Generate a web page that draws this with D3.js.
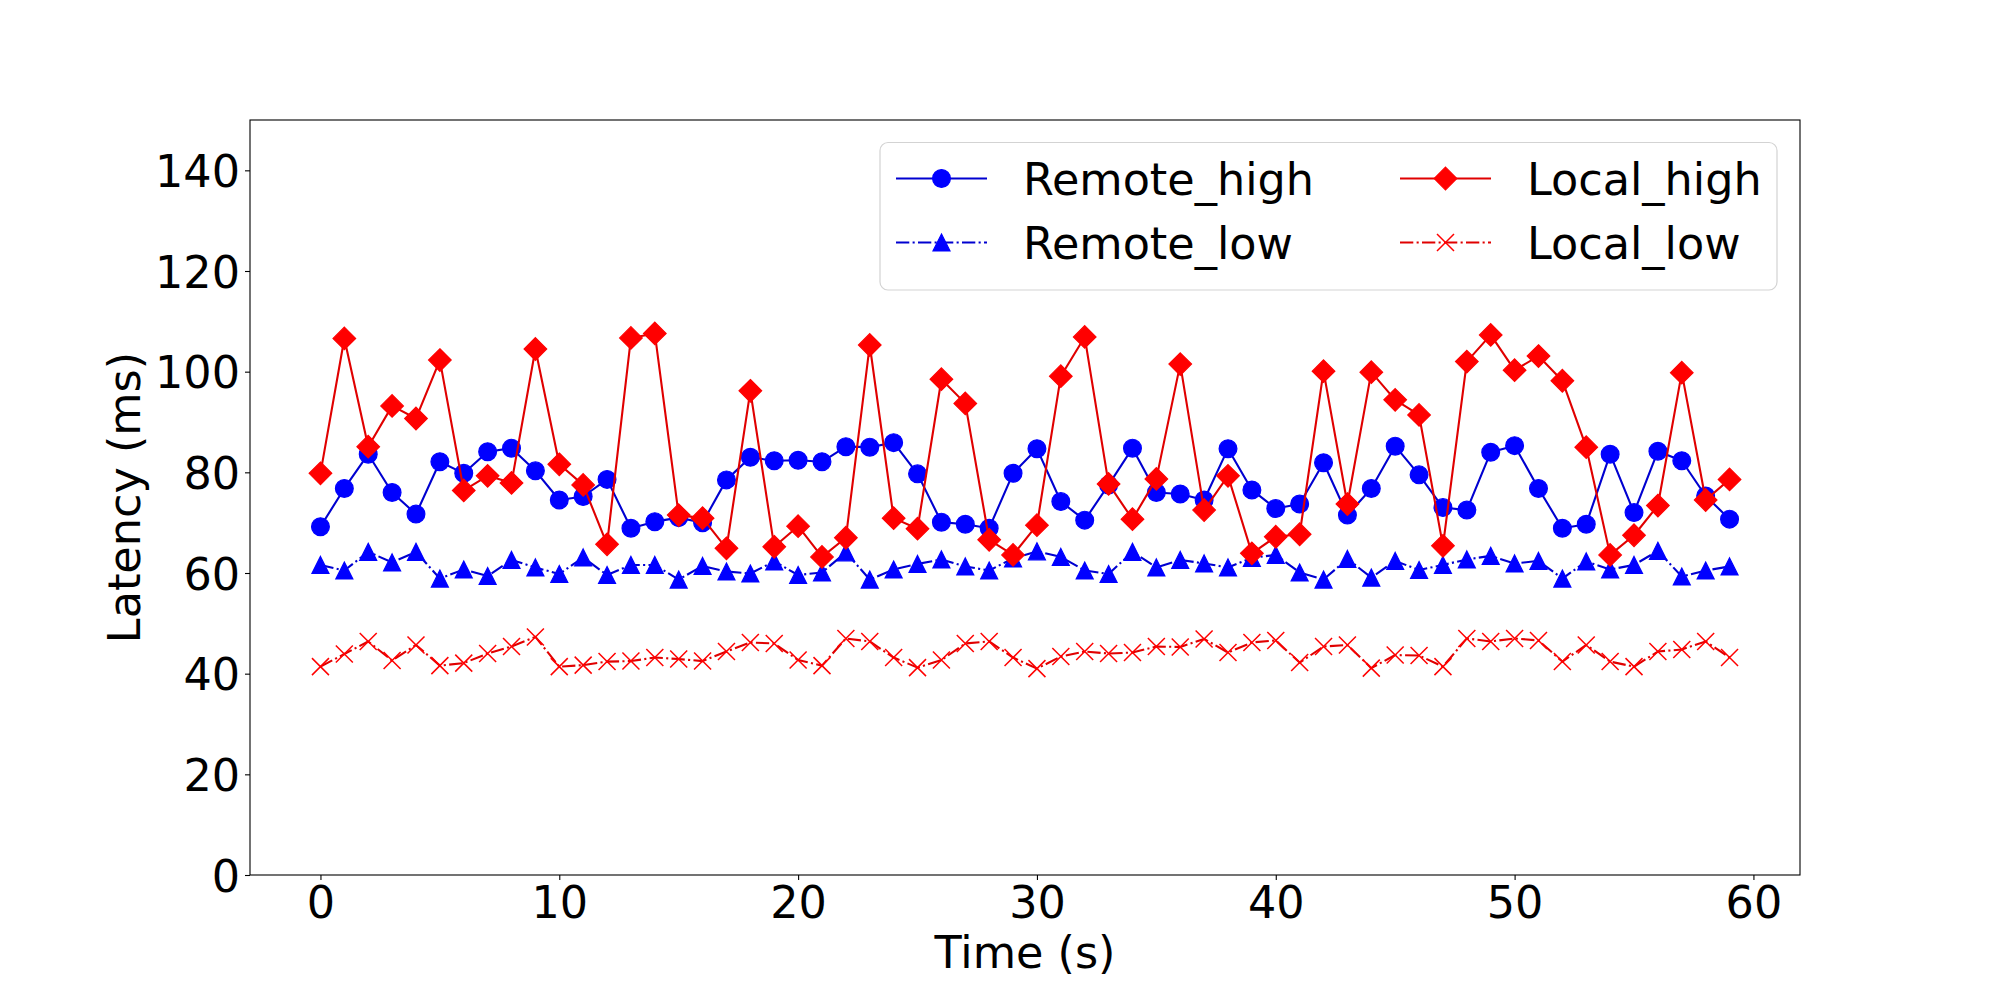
<!DOCTYPE html>
<html>
<head>
<meta charset="utf-8">
<script src="https://cdn.jsdelivr.net/npm/d3@7"></script>
<style>
  html, body { margin: 0; padding: 0; background: #fff; }
  svg { display: block; font-family: "DejaVu Sans", sans-serif; }
</style>
</head>
<body>
<svg id="chart" width="2000" height="1000"></svg>
<script>
// ---- data ----
const times = d3.range(0, 60);
const remoteHigh = [69.2, 76.8, 83.6, 76.0, 71.7, 82.1, 79.8, 84.1, 84.8, 80.3,
  74.5, 75.2, 78.6, 68.9, 70.2, 71.0, 70.0, 78.5, 83.0, 82.3,
  82.4, 82.1, 85.1, 85.0, 85.9, 79.7, 70.1, 69.7, 68.9, 79.8,
  84.7, 74.2, 70.5, 77.5, 84.8, 76.0, 75.7, 74.5, 84.7, 76.5,
  72.8, 73.7, 81.9, 71.5, 76.8, 85.2, 79.5, 73.0, 72.5, 84.0,
  85.3, 76.8, 68.9, 69.7, 83.6, 72.0, 84.2, 82.3, 75.3, 70.7];
const remoteLow = [61.6, 60.5, 64.2, 62.1, 64.2, 58.9, 60.7, 59.4, 62.6, 61.1,
  59.8, 63.1, 59.6, 61.6, 61.6, 58.7, 61.4, 60.3, 59.9, 62.3,
  59.6, 60.1, 64.1, 58.7, 60.7, 61.8, 62.7, 61.3, 60.5, 62.9,
  64.3, 63.2, 60.5, 59.8, 64.2, 61.1, 62.6, 61.9, 61.1, 63.0,
  63.6, 60.1, 58.7, 62.8, 59.1, 62.4, 60.6, 61.6, 62.7, 63.4,
  61.9, 62.4, 58.9, 62.3, 60.7, 61.6, 64.4, 59.3, 60.5, 61.3];
const localHigh = [79.8, 106.6, 85.1, 93.2, 90.7, 102.3, 76.4, 79.3, 77.9, 104.5,
  81.6, 77.5, 65.7, 106.7, 107.6, 71.5, 70.9, 64.9, 96.2, 65.2,
  69.3, 63.2, 67.0, 105.3, 70.9, 68.8, 98.5, 93.7, 66.6, 63.6,
  69.5, 99.1, 106.9, 77.7, 70.7, 78.7, 101.5, 72.5, 79.3, 63.9,
  67.2, 67.7, 100.1, 73.7, 99.9, 94.4, 91.4, 65.4, 102.0, 107.3,
  100.3, 103.1, 98.2, 85.0, 63.6, 67.5, 73.4, 99.8, 74.5, 78.6];
const localLow = [41.4, 43.9, 46.4, 42.6, 45.7, 41.6, 42.1, 44.0, 45.4, 47.3,
  41.4, 41.7, 42.4, 42.5, 43.2, 42.9, 42.5, 44.4, 46.2, 46.0,
  42.7, 41.6, 47.0, 46.4, 43.2, 41.2, 42.7, 46.0, 46.4, 43.2,
  41.0, 43.4, 44.4, 44.0, 44.2, 45.4, 45.3, 46.9, 44.2, 46.2,
  46.6, 42.2, 45.4, 45.7, 41.1, 43.7, 43.6, 41.4, 47.0, 46.4,
  47.0, 46.6, 42.4, 45.7, 42.4, 41.4, 44.4, 44.8, 46.4, 43.2];
const seriesNames = ["Remote_high", "Remote_low", "Local_high", "Local_low"];
const xTicks = [0, 10, 20, 30, 40, 50, 60];
const yTicks = [0, 20, 40, 60, 80, 100, 120, 140];
const xLabel = "Time (s)";
const yLabel = "Latency (ms)";

// ---- styles ----
const styles = {
  "Remote_high": { values: remoteHigh, line: "#0000d0", fill: "#0000ff", dash: null, marker: "circle" },
  "Remote_low":  { values: remoteLow,  line: "#0000d0", fill: "#0000ff", dash: "13.3,3.3,2.1,3.3", marker: "triangle" },
  "Local_high":  { values: localHigh,  line: "#e00000", fill: "#ff0000", dash: null, marker: "diamond" },
  "Local_low":   { values: localLow,   line: "#e00000", fill: "#ff0000", dash: "13.3,3.3,2.1,3.3", marker: "x" }
};

const W = 2000, H = 1000;
const plot = { left: 250, right: 1800, top: 120, bottom: 875 };
const fs = 44.5;

const svg = d3.select("#chart");
const x = d3.scaleLinear().domain([-2.95, 61.95]).range([plot.left, plot.right]);
const y = d3.scaleLinear().domain([0, 150]).range([plot.bottom, plot.top]);

svg.append("rect").attr("width", W).attr("height", H).attr("fill", "#fff");

function drawMarker(g, type, cx, cy, st) {
  if (type === "circle") {
    g.append("circle").attr("cx", cx).attr("cy", cy).attr("r", 8.9)
      .attr("fill", st.fill).attr("stroke", st.fill).attr("stroke-width", 1.2);
  } else if (type === "diamond") {
    const h = 11.3;
    g.append("path").attr("d", `M${cx},${cy - h}L${cx + h},${cy}L${cx},${cy + h}L${cx - h},${cy}Z`)
      .attr("fill", st.fill).attr("stroke", st.fill).attr("stroke-width", 1.2);
  } else if (type === "triangle") {
    const h = 8.5;
    g.append("path").attr("d", `M${cx},${cy - h}L${cx + h},${cy + h}L${cx - h},${cy + h}Z`)
      .attr("fill", st.fill).attr("stroke", st.fill).attr("stroke-width", 1.2);
  } else if (type === "x") {
    const h = 8.5;
    g.append("path").attr("d", `M${cx - h},${cy - h}L${cx + h},${cy + h}M${cx - h},${cy + h}L${cx + h},${cy - h}`)
      .attr("fill", "none").attr("stroke", st.fill).attr("stroke-width", 1.5);
  }
}

// ---- axes ----
const xAxis = d3.axisBottom(x).tickValues(xTicks).tickSize(5).tickPadding(8).tickFormat(d3.format("d"));
const yAxis = d3.axisLeft(y).tickValues(yTicks).tickSize(5).tickPadding(8).tickFormat(d3.format("d"));

const gx = svg.append("g").attr("transform", `translate(0,${plot.bottom})`).call(xAxis);
const gy = svg.append("g").attr("transform", `translate(${plot.left},0)`).call(yAxis);
[gx, gy].forEach(g => {
  g.select(".domain").remove();
  g.selectAll(".tick line").attr("stroke", "#000").attr("stroke-width", 1.1);
  g.selectAll(".tick text").attr("fill", "#000").attr("font-size", fs)
    .attr("font-family", "DejaVu Sans");
});
gx.selectAll(".tick text").attr("dy", null).attr("y", 43.3);
gy.selectAll(".tick text").attr("dy", null).attr("x", -10).attr("y", 16.2);

// ---- series ----
const plotG = svg.append("g");
const line = d3.line().x((d, i) => x(times[i])).y(d => y(d));
seriesNames.forEach(name => {
  const st = styles[name];
  const g = plotG.append("g");
  g.append("path").datum(st.values).attr("d", line)
    .attr("fill", "none").attr("stroke", st.line).attr("stroke-width", 2.1)
    .attr("stroke-dasharray", st.dash).attr("stroke-linejoin", "round");
  st.values.forEach((v, i) => drawMarker(g, st.marker, x(times[i]), y(v), st));
});

// ---- frame ----
svg.append("rect").attr("x", plot.left).attr("y", plot.top)
  .attr("width", plot.right - plot.left).attr("height", plot.bottom - plot.top)
  .attr("fill", "none").attr("stroke", "#000").attr("stroke-width", 1.1);

// ---- axis labels ----
svg.append("text").attr("x", (plot.left + plot.right) / 2).attr("y", 968)
  .attr("text-anchor", "middle").attr("font-size", fs).attr("fill", "#000").text(xLabel);
svg.append("text").attr("transform", `translate(140,${(plot.top + plot.bottom) / 2}) rotate(-90)`)
  .attr("text-anchor", "middle").attr("font-size", fs).attr("fill", "#000").text(yLabel);

// ---- legend ----
const lg = svg.append("g");
lg.append("rect").attr("x", 880).attr("y", 142.5).attr("width", 897).attr("height", 147.5)
  .attr("rx", 8).attr("fill", "#fff").attr("fill-opacity", 0.8)
  .attr("stroke", "#d3d3d3").attr("stroke-width", 1.2);
const colX = [896, 1400];
const rowY = [178.5, 242.5];
seriesNames.forEach((name, k) => {
  const st = styles[name];
  const col = Math.floor(k / 2), row = k % 2;
  const x0 = colX[col], yy = rowY[row];
  lg.append("line").attr("x1", x0).attr("x2", x0 + 91).attr("y1", yy).attr("y2", yy)
    .attr("stroke", st.line).attr("stroke-width", 2.1).attr("stroke-dasharray", st.dash);
  drawMarker(lg, st.marker, x0 + 45.5, yy, st);
  lg.append("text").attr("x", x0 + 127).attr("y", yy + 16.5).attr("font-size", fs)
    .attr("fill", "#000").text(name);
});
</script>
</body>
</html>
